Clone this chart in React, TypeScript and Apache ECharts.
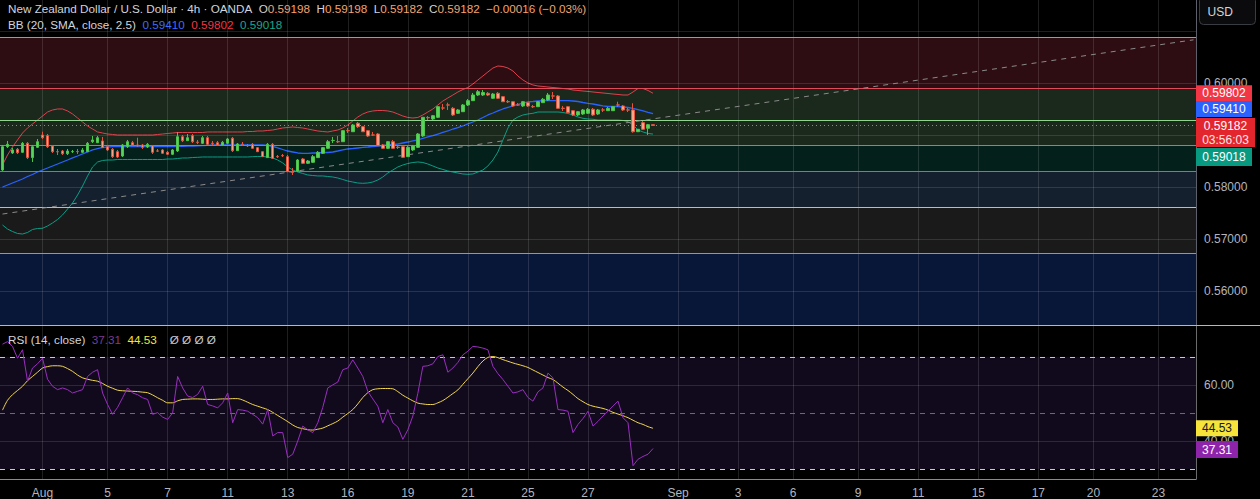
import React, { useEffect, useRef } from "react";
import * as echarts from "echarts";

const SLOT_COUNT = 239;
const tickIndex = [8, 21, 33, 45, 57, 69, 81, 93, 105, 117, 135, 147, 158, 171, 183, 195, 207, 218, 231];
const tickText = ["Aug", "5", "7", "11", "13", "16", "19", "21", "25", "27", "Sep", "3", "6", "9", "11", "15", "17", "20", "23"];

const opens = [
  0.58327, 0.58775, 0.58654, 0.58725, 0.58667, 0.5884, 0.58565, 0.58763, 0.59, 0.58987,
  0.58788, 0.5868, 0.58692, 0.5864, 0.58679, 0.58681, 0.58667, 0.58679, 0.58871, 0.58852,
  0.58885, 0.58775, 0.58725, 0.58679, 0.58596, 0.58775, 0.58852, 0.58808, 0.58808, 0.58769,
  0.58794, 0.58694, 0.58712, 0.58667, 0.58629, 0.58692, 0.58967, 0.5889, 0.58987, 0.58862,
  0.5884, 0.58948, 0.58842, 0.58852, 0.58808, 0.5884, 0.58937, 0.58698, 0.58823, 0.58796,
  0.58821, 0.58756, 0.58679, 0.58565, 0.58821, 0.58585, 0.58604, 0.58583, 0.58285, 0.58308,
  0.58538, 0.58456, 0.58475, 0.58565, 0.58648, 0.58744, 0.58892, 0.58873, 0.58871, 0.59085,
  0.59063, 0.59225, 0.5916, 0.59083, 0.59002, 0.59019, 0.58808, 0.58744, 0.58871, 0.58765,
  0.58775, 0.58583, 0.58712, 0.58763, 0.58981, 0.59335, 0.59308, 0.5934, 0.59521, 0.59579,
  0.59513, 0.59417, 0.59448, 0.59577, 0.5966, 0.59769, 0.59769, 0.59802, 0.59706, 0.59802,
  0.59737, 0.59642, 0.5964, 0.59579, 0.59558, 0.59621, 0.59546, 0.59544, 0.59621, 0.59673,
  0.59752, 0.5975, 0.59515, 0.59544, 0.59467, 0.59385, 0.59404, 0.59417, 0.59494, 0.59404,
  0.59483, 0.59467, 0.59467, 0.59579, 0.59558, 0.59483, 0.59481, 0.59063, 0.59237, 0.59129,
  0.59198,
];
const closes = [
  0.58775, 0.58821, 0.58712, 0.5866, 0.5884, 0.58565, 0.58775, 0.58871, 0.58948, 0.58775,
  0.58679, 0.58677, 0.5864, 0.58692, 0.58681, 0.58679, 0.58712, 0.5884, 0.58904, 0.58948,
  0.58756, 0.58712, 0.58583, 0.58577, 0.58808, 0.58871, 0.58808, 0.58788, 0.58763, 0.58821,
  0.58667, 0.5869, 0.58648, 0.58629, 0.58712, 0.58967, 0.5889, 0.58948, 0.58871, 0.58858,
  0.58948, 0.58821, 0.58838, 0.58808, 0.5886, 0.58923, 0.58698, 0.58827, 0.58819, 0.58792,
  0.58744, 0.58679, 0.58583, 0.58821, 0.58552, 0.58581, 0.586, 0.58294, 0.58281, 0.58519,
  0.58456, 0.585, 0.58583, 0.58667, 0.58756, 0.58871, 0.58896, 0.58869, 0.59083, 0.59081,
  0.59192, 0.5916, 0.59063, 0.58981, 0.58998, 0.58794, 0.58744, 0.58871, 0.58744, 0.58761,
  0.58571, 0.58763, 0.58788, 0.59019, 0.5934, 0.59331, 0.59371, 0.59544, 0.59517, 0.59575,
  0.59385, 0.59481, 0.59577, 0.5966, 0.59769, 0.59833, 0.59817, 0.59769, 0.59788, 0.59706,
  0.5964, 0.59638, 0.59558, 0.59575, 0.5964, 0.59558, 0.59542, 0.5964, 0.59687, 0.59769,
  0.59748, 0.59513, 0.59511, 0.59429, 0.59385, 0.59448, 0.59481, 0.59494, 0.59385, 0.59481,
  0.59479, 0.59513, 0.59544, 0.59575, 0.59481, 0.59479, 0.59063, 0.5911, 0.5911, 0.59198,
  0.59182,
];
const lows = [
  0.58308, 0.5875, 0.58635, 0.58635, 0.58654, 0.58538, 0.58481, 0.5875, 0.58923, 0.5875,
  0.58654, 0.58615, 0.58615, 0.58615, 0.58654, 0.58635, 0.58654, 0.58673, 0.58846, 0.58846,
  0.5875, 0.58692, 0.58558, 0.58558, 0.58577, 0.5875, 0.58788, 0.58769, 0.58731, 0.5875,
  0.58635, 0.58673, 0.58635, 0.58615, 0.58615, 0.58673, 0.58865, 0.58885, 0.58846, 0.58827,
  0.58827, 0.58808, 0.58808, 0.58788, 0.58788, 0.58827, 0.58673, 0.58692, 0.58788, 0.58769,
  0.58731, 0.58673, 0.58577, 0.58558, 0.58538, 0.58558, 0.58577, 0.58288, 0.58231, 0.58288,
  0.58442, 0.58442, 0.58462, 0.58558, 0.58635, 0.58731, 0.58846, 0.58846, 0.58865, 0.59038,
  0.59058, 0.59135, 0.59058, 0.58962, 0.58981, 0.58788, 0.58731, 0.58731, 0.58731, 0.58731,
  0.58558, 0.58577, 0.58692, 0.5875, 0.58962, 0.59288, 0.59288, 0.59327, 0.59481, 0.59481,
  0.59365, 0.59404, 0.59442, 0.59558, 0.59654, 0.5975, 0.5975, 0.5975, 0.59692, 0.59692,
  0.59635, 0.59615, 0.59538, 0.59558, 0.59538, 0.59538, 0.59519, 0.59538, 0.59615, 0.59654,
  0.59692, 0.595, 0.59462, 0.59423, 0.59365, 0.59365, 0.59385, 0.59404, 0.59365, 0.59385,
  0.59442, 0.59462, 0.59462, 0.59538, 0.59462, 0.59442, 0.59044, 0.59058, 0.59096, 0.59,
  0.59182,
];
const highs = [
  0.58808, 0.58885, 0.5875, 0.5875, 0.58865, 0.58865, 0.58808, 0.58923, 0.59063, 0.59019,
  0.58808, 0.58731, 0.58712, 0.58731, 0.58712, 0.58731, 0.5875, 0.58865, 0.58981, 0.58981,
  0.58962, 0.58808, 0.5875, 0.58712, 0.58827, 0.58904, 0.58885, 0.58948, 0.58827, 0.58846,
  0.58808, 0.58731, 0.58731, 0.58692, 0.58731, 0.59058, 0.59, 0.59019, 0.59019, 0.58904,
  0.58981, 0.58981, 0.58885, 0.58885, 0.58885, 0.58942, 0.58962, 0.58846, 0.58865, 0.58827,
  0.58846, 0.58769, 0.58692, 0.58846, 0.58846, 0.58615, 0.58635, 0.58615, 0.58365, 0.58538,
  0.58558, 0.58519, 0.58615, 0.58692, 0.58769, 0.58904, 0.58962, 0.58981, 0.59096, 0.59135,
  0.59212, 0.5925, 0.59173, 0.59096, 0.59058, 0.59038, 0.58827, 0.58885, 0.58904, 0.58788,
  0.58788, 0.58788, 0.58808, 0.59038, 0.59346, 0.59365, 0.59385, 0.59558, 0.59596, 0.59621,
  0.59538, 0.595, 0.59596, 0.59692, 0.59808, 0.59865, 0.59865, 0.59827, 0.59808, 0.59827,
  0.5975, 0.59673, 0.59654, 0.59615, 0.59654, 0.59635, 0.59577, 0.59654, 0.59712, 0.59808,
  0.59827, 0.59769, 0.59558, 0.59558, 0.59481, 0.59462, 0.595, 0.59519, 0.59519, 0.595,
  0.59519, 0.59538, 0.59558, 0.5964, 0.59577, 0.59519, 0.5961, 0.59115, 0.59269, 0.59212,
  0.59198,
];

const bbUpper = [
  0.58423, 0.58615, 0.58769, 0.58904, 0.59038, 0.59135, 0.59212, 0.59288, 0.59365, 0.59442,
  0.59481, 0.595, 0.595, 0.59462, 0.59404, 0.59327, 0.5925, 0.59173, 0.59115, 0.59058,
  0.59038, 0.59019, 0.5901, 0.59, 0.59, 0.59, 0.59, 0.59, 0.59, 0.59,
  0.59, 0.5901, 0.59019, 0.59029, 0.59038, 0.59048, 0.59048, 0.59048, 0.59048, 0.59048,
  0.59048, 0.59058, 0.59058, 0.59058, 0.59058, 0.59058, 0.59058, 0.59058, 0.59058, 0.59067,
  0.59067, 0.59077, 0.59077, 0.59087, 0.59096, 0.59115, 0.59135, 0.59144, 0.59154, 0.59144,
  0.59135, 0.59115, 0.59096, 0.59077, 0.59067, 0.59058, 0.59077, 0.59096, 0.59135, 0.59192,
  0.59269, 0.59346, 0.59404, 0.59442, 0.59462, 0.59471, 0.59471, 0.59462, 0.59442, 0.59404,
  0.59365, 0.59337, 0.59327, 0.59337, 0.59385, 0.59442, 0.595, 0.59577, 0.59654, 0.59712,
  0.59769, 0.59827, 0.59875, 0.59913, 0.59981, 0.60058, 0.60135, 0.60212, 0.60288, 0.60327,
  0.60317, 0.60288, 0.60231, 0.60135, 0.60058, 0.6, 0.59962, 0.59942, 0.59933, 0.59923,
  0.59913, 0.59904, 0.59894, 0.59885, 0.59865, 0.59856, 0.59846, 0.59837, 0.59827, 0.59817,
  0.59808, 0.59798, 0.59788, 0.59779, 0.59769, 0.59769, 0.59827, 0.59894, 0.59894, 0.59856,
  0.59802,
];
const bbBasis = [
  0.58, 0.58038, 0.58077, 0.58115, 0.58154, 0.58202, 0.5824, 0.58288, 0.58327, 0.58365,
  0.58404, 0.58442, 0.58481, 0.58519, 0.58558, 0.58596, 0.58635, 0.58673, 0.58712, 0.5874,
  0.5876, 0.58769, 0.58775, 0.58775, 0.58775, 0.58775, 0.58775, 0.58775, 0.58775, 0.58775,
  0.58775, 0.58775, 0.58775, 0.58775, 0.58779, 0.58781, 0.58783, 0.58785, 0.58788, 0.5879,
  0.58794, 0.588, 0.58808, 0.58808, 0.58808, 0.58808, 0.58808, 0.58808, 0.58808, 0.58808,
  0.58808, 0.58808, 0.58808, 0.58798, 0.58779, 0.5875, 0.58721, 0.58692, 0.58673, 0.58654,
  0.58648, 0.58648, 0.58654, 0.58654, 0.58663, 0.58663, 0.58673, 0.58692, 0.58712, 0.58731,
  0.5874, 0.5875, 0.5876, 0.58769, 0.58779, 0.58788, 0.58798, 0.58808, 0.58817, 0.58827,
  0.58846, 0.58865, 0.58885, 0.58904, 0.58933, 0.58962, 0.5899, 0.59019, 0.59048, 0.59077,
  0.59115, 0.59144, 0.59173, 0.59212, 0.5925, 0.59288, 0.59337, 0.59385, 0.59423, 0.59462,
  0.595, 0.59529, 0.59558, 0.59587, 0.59615, 0.59635, 0.59644, 0.59654, 0.5966, 0.5966,
  0.5966, 0.5966, 0.5966, 0.5966, 0.59654, 0.59644, 0.59625, 0.5961, 0.59596, 0.59577,
  0.59558, 0.59548, 0.59548, 0.59548, 0.59538, 0.59529, 0.59513, 0.5949, 0.59462, 0.59433,
  0.5941,
];
const bbLower = [
  0.57269, 0.57192, 0.57144, 0.57106, 0.57096, 0.57125, 0.57183, 0.57202, 0.57206, 0.5725,
  0.57308, 0.57375, 0.57462, 0.57577, 0.57692, 0.57846, 0.58019, 0.58212, 0.58385, 0.58481,
  0.5851, 0.58519, 0.58519, 0.58529, 0.58529, 0.58529, 0.58529, 0.58529, 0.58529, 0.58529,
  0.58529, 0.58529, 0.58529, 0.58538, 0.58538, 0.58548, 0.58558, 0.58558, 0.58567, 0.58571,
  0.58577, 0.58577, 0.58577, 0.58577, 0.58577, 0.58577, 0.58577, 0.58577, 0.58577, 0.58577,
  0.58583, 0.58587, 0.58587, 0.58577, 0.58558, 0.58519, 0.58462, 0.58385, 0.58327, 0.58288,
  0.5826, 0.58231, 0.58221, 0.58212, 0.58212, 0.58202, 0.58192, 0.58173, 0.58144, 0.58115,
  0.58096, 0.58077, 0.58071, 0.58077, 0.58096, 0.58135, 0.58192, 0.58269, 0.58327, 0.58385,
  0.58423, 0.58452, 0.58471, 0.58481, 0.58471, 0.58442, 0.58404, 0.58365, 0.58337, 0.58308,
  0.58288, 0.58269, 0.5825, 0.58244, 0.5825, 0.58288, 0.58327, 0.58404, 0.58519, 0.58673,
  0.58904, 0.59135, 0.59288, 0.59346, 0.59385, 0.59404, 0.59417, 0.59442, 0.59442, 0.59442,
  0.59442, 0.59442, 0.59433, 0.59413, 0.59385, 0.59346, 0.59321, 0.59308, 0.59302, 0.59288,
  0.59288, 0.59288, 0.59288, 0.59288, 0.59279, 0.59256, 0.59192, 0.59096, 0.59058, 0.59029,
  0.59018,
];

const rsiValues = [
  74.5, 75.4, 73.7, 69.5, 72.5, 61.3, 66.0, 67.5, 69.5, 62.0,
  59.5, 58.3, 58.9, 58.3, 57.1, 57.7, 58.3, 63.0, 64.5, 65.4,
  57.1, 53.0, 49.5, 52.0, 55.4, 58.9, 57.1, 56.5, 55.4, 54.8,
  49.5, 50.1, 48.5, 47.7, 50.0, 63.0, 58.9, 56.0, 55.5, 56.6,
  59.5, 53.0, 52.5, 51.8, 53.6, 57.1, 46.5, 51.2, 51.0, 50.6,
  49.5, 48.3, 46.0, 51.2, 41.8, 43.0, 43.0, 34.1, 35.3, 40.0,
  45.3, 44.0, 43.0, 46.5, 52.0, 58.9, 60.0, 61.0, 65.4, 66.0,
  68.9, 66.0, 63.0, 57.7, 55.0, 52.4, 46.5, 51.2, 46.5, 45.0,
  40.6, 44.0, 48.9, 57.0, 66.6, 66.8, 67.5, 70.1, 70.7, 64.5,
  66.0, 68.0, 70.7, 72.0, 73.7, 73.5, 73.1, 72.5, 66.6, 64.0,
  61.9, 59.5, 57.1, 57.5, 58.3, 55.5, 54.2, 57.5, 58.9, 64.2,
  62.5, 51.2, 51.0, 50.6, 43.0, 45.9, 48.0, 50.6, 45.3, 47.0,
  48.9, 50.6, 52.5, 54.2, 48.3, 46.5, 31.2, 33.5, 34.5, 35.3,
  37.31,
];
const rsiMa = [
  51.0, 54.5, 56.5, 58.0, 59.5, 61.5, 63.0, 64.5, 66.0, 66.5,
  66.8, 66.8, 66.6, 65.8, 64.8, 63.5, 62.5, 62.0, 61.6, 61.3,
  60.5, 59.5, 58.8, 58.1, 57.9, 57.8, 57.7, 57.6, 57.4, 57.2,
  56.4, 55.4, 54.5, 53.6, 53.6, 54.3, 54.8, 54.9, 55.0, 55.0,
  54.9, 54.8, 54.8, 54.9, 55.0, 55.0, 55.1, 55.1, 54.6, 53.8,
  53.0, 52.4, 51.8, 51.2, 50.2, 49.1, 48.0, 46.9, 45.7, 44.8,
  44.4, 44.0, 43.9, 44.2, 44.6, 45.4, 46.2, 47.1, 48.5, 49.8,
  51.2, 53.2, 55.5, 57.2, 58.3, 58.6, 58.7, 58.7, 58.6, 57.6,
  56.3, 55.3, 54.3, 53.5, 53.2, 53.0, 53.0, 53.6, 54.4, 55.6,
  56.9, 58.2, 60.2, 62.2, 64.2, 66.5, 68.5, 69.8, 70.1, 69.7,
  69.0, 68.4, 67.8, 67.3, 66.8, 66.2, 65.3, 64.4, 63.5, 62.6,
  61.9, 60.6, 59.2, 58.0, 56.6, 55.1, 54.0, 53.0, 52.4, 52.0,
  51.6, 51.0, 50.2, 49.6, 49.0, 48.3, 47.4, 46.5, 45.9, 45.1,
  44.53,
];

const priceMin = 0.55346;
const priceMax = 0.61596;
const rsiMin = 26.46;
const rsiMax = 80.97;

const zoneEdges = [0.55346, 0.56725, 0.5761, 0.58308, 0.58802, 0.59898, 0.60879];
const zoneColors = ["#081637", "#1a1a1a", "#15202e", "#04201b", "#1b281c", "#2d0d11"];
const levelValues = [0.60879, 0.59898, 0.59288, 0.58802, 0.58308, 0.5761, 0.56725];
const levelColors = ["#9a9aa4", "#e04b5a", "#8fd48f", "#4caf50", "#26a69a", "#90c8f4", "#8d97aa"];
const priceGridLevels = [0.56, 0.57, 0.58, 0.59, 0.6, 0.61];
const hiddenPriceLabels = [0.59, 0.61];
const trendStart = [0, 0.5748];
const trendEnd = [238, 0.6083];
const rsiGridLevels = [40, 60];
const rsiBandLevels = [70, 50, 30];
const rsiBandColors = ["#c9c9d0", "#6a6a74", "#c9c9d0"];
const countdown = "03:56:03";

const symbolTitle = "New Zealand Dollar / U.S. Dollar · 4h · OANDA";
const bbTitle = "BB (20, SMA, close, 2.5)";
const rsiTitle = "RSI (14, close)";
const emptyPlots = ["Ø", "Ø", "Ø", "Ø"];

const FONT = "'Liberation Sans', Arial, sans-serif";
const TEXT = "#d1d4dc";
const AXIS_TEXT = "#b2b5be";
const HEAD_SIZE = 11.7;

function signed(v: number, digits: number) {
  const s = Math.abs(v).toFixed(digits);
  return v < 0 ? "\u2212" + s : "+" + s;
}

function buildOption() {
  const categories = Array.from({ length: SLOT_COUNT }, (_, i) => String(i));
  const tickMap = new Map<number, string>();
  tickIndex.forEach((idx, k) => tickMap.set(idx, tickText[k]));
  const n = opens.length;
  const lastSlot = SLOT_COUNT - 1;
  const candleData = opens.map((o, i) => [o, closes[i], lows[i], highs[i]]);

  const lastO = opens[n - 1];
  const lastH = highs[n - 1];
  const lastL = lows[n - 1];
  const lastC = closes[n - 1];
  const prevC = closes[n - 2];
  const chg = lastC - prevC;
  const pct = (chg / prevC) * 100;

  const noLabel = { show: false };
  const markLineBase = {
    silent: true,
    symbol: ["none", "none"],
    label: noLabel,
    animation: false,
    precision: 8,
  };

  const zoneAreas = zoneColors.map((c, k) => [
    { yAxis: zoneEdges[k], itemStyle: { color: c } },
    { yAxis: zoneEdges[k + 1] },
  ]);

  const gridStyle = { color: "rgba(255,255,255,0.12)", width: 1, type: "solid" };

  const tagDx = (w: number) => 1196 + w / 2 - 1193.5;
  const priceTag = (value: number, text: string, bg: string, dy: number, w: number, h: number, rich?: any) => ({
    coord: [lastSlot, value],
    symbol: "rect",
    symbolSize: [w, h],
    symbolOffset: [tagDx(w), dy],
    itemStyle: { color: bg },
    label: {
      show: true,
      position: "inside",
      formatter: text,
      color: "#ffffff",
      fontSize: 12,
      fontFamily: FONT,
      lineHeight: 14,
      rich,
    },
  });

  const series: any[] = [
    {
      name: "zones",
      type: "line",
      xAxisIndex: 0,
      yAxisIndex: 0,
      data: [],
      z: 1,
      silent: true,
      markArea: { silent: true, animation: false, data: zoneAreas },
    },
    {
      name: "priceGrid",
      type: "line",
      xAxisIndex: 0,
      yAxisIndex: 0,
      data: [],
      z: 2,
      silent: true,
      markLine: {
        ...markLineBase,
        lineStyle: gridStyle,
        data: [
          ...tickIndex.map((i) => ({ xAxis: i, lineStyle: gridStyle })),
          ...priceGridLevels.map((v) => ({ yAxis: v, lineStyle: gridStyle })),
        ],
      },
    },
    {
      name: "levels",
      type: "line",
      xAxisIndex: 0,
      yAxisIndex: 0,
      data: [],
      z: 3,
      silent: true,
      markLine: {
        ...markLineBase,
        data: [
          ...levelValues.map((v, k) => ({ yAxis: v, lineStyle: { color: levelColors[k], width: 1, type: "solid" } })),
          { yAxis: lastC, lineStyle: { color: "#f0673a", width: 1, type: [1, 3] } },
          [
            { coord: trendStart, lineStyle: { color: "#8a8a8a", width: 1, type: [5, 5] } },
            { coord: trendEnd },
          ],
        ],
      },
    },
    {
      name: "BB upper",
      type: "line",
      xAxisIndex: 0,
      yAxisIndex: 0,
      data: bbUpper,
      z: 4,
      showSymbol: false,
      silent: true,
      lineStyle: { color: "#e0404e", width: 1 },
    },
    {
      name: "BB basis",
      type: "line",
      xAxisIndex: 0,
      yAxisIndex: 0,
      data: bbBasis,
      z: 4,
      showSymbol: false,
      silent: true,
      lineStyle: { color: "#2962ff", width: 1.3 },
    },
    {
      name: "BB lower",
      type: "line",
      xAxisIndex: 0,
      yAxisIndex: 0,
      data: bbLower,
      z: 4,
      showSymbol: false,
      silent: true,
      lineStyle: { color: "#0a9d84", width: 1 },
    },
    {
      name: "NZDUSD",
      type: "candlestick",
      xAxisIndex: 0,
      yAxisIndex: 0,
      data: candleData,
      z: 5,
      barWidth: 3,
      silent: true,
      itemStyle: {
        color: "#5bd45b",
        color0: "#f6a58a",
        borderColor: "#4cc44c",
        borderColor0: "#e8553e",
        borderWidth: 1,
      },
    },
    {
      name: "priceTags",
      type: "line",
      xAxisIndex: 0,
      yAxisIndex: 0,
      data: [],
      z: 10,
      silent: true,
      markPoint: {
        silent: true,
        animation: false,
        data: [
          priceTag(bbUpper[n - 1], bbUpper[n - 1].toFixed(5), "#f23645", 0, 56, 16),
          priceTag(bbBasis[n - 1], bbBasis[n - 1].toFixed(5), "#2962ff", -4.7, 56, 16),
          priceTag(lastC, `{a|${lastC.toFixed(5)}}\n{b|${countdown}}`, "#e3262e", 7, 59, 29, {
            a: { color: "#ffffff", fontSize: 12, fontFamily: FONT, lineHeight: 14 },
            b: { color: "#ffe6e6", fontSize: 12, fontFamily: FONT, lineHeight: 14 },
          }),
          priceTag(bbLower[n - 1], bbLower[n - 1].toFixed(5), "#089981", 23, 56, 18),
        ],
      },
    },
    // RSI panel
    {
      name: "rsiBand",
      type: "line",
      xAxisIndex: 1,
      yAxisIndex: 1,
      data: [],
      z: 1,
      silent: true,
      markArea: {
        silent: true,
        animation: false,
        data: [[{ yAxis: rsiBandLevels[2], itemStyle: { color: "#110a1d" } }, { yAxis: rsiBandLevels[0] }]],
      },
    },
    {
      name: "rsiGrid",
      type: "line",
      xAxisIndex: 1,
      yAxisIndex: 1,
      data: [],
      z: 2,
      silent: true,
      markLine: {
        ...markLineBase,
        lineStyle: gridStyle,
        data: [
          ...tickIndex.map((i) => ({ xAxis: i, lineStyle: gridStyle })),
          ...rsiGridLevels.map((v) => ({ yAxis: v, lineStyle: gridStyle })),
        ],
      },
    },
    {
      name: "rsiLevels",
      type: "line",
      xAxisIndex: 1,
      yAxisIndex: 1,
      data: [],
      z: 3,
      silent: true,
      markLine: {
        ...markLineBase,
        data: rsiBandLevels.map((v, k) => ({
          yAxis: v,
          lineStyle: { color: rsiBandColors[k], width: 1, type: [5, 5] },
        })),
      },
    },
    {
      name: "RSI MA",
      type: "line",
      xAxisIndex: 1,
      yAxisIndex: 1,
      data: rsiMa,
      z: 4,
      showSymbol: false,
      silent: true,
      smooth: 0.3,
      lineStyle: { color: "#f2d64b", width: 1 },
    },
    {
      name: "RSI",
      type: "line",
      xAxisIndex: 1,
      yAxisIndex: 1,
      data: rsiValues,
      z: 5,
      showSymbol: false,
      silent: true,
      lineStyle: { color: "#9a2fbf", width: 1 },
    },
    {
      name: "rsiTags",
      type: "line",
      xAxisIndex: 1,
      yAxisIndex: 1,
      data: [],
      z: 10,
      silent: true,
      markPoint: {
        silent: true,
        animation: false,
        data: [
          {
            coord: [lastSlot, rsiMa[n - 1]],
            symbol: "rect",
            symbolSize: [42, 16],
            symbolOffset: [tagDx(42), 0],
            itemStyle: { color: "#f7e43a" },
            label: { show: true, position: "inside", formatter: rsiMa[n - 1].toFixed(2), color: "#131722", fontSize: 12, fontFamily: FONT },
          },
          {
            coord: [lastSlot, rsiValues[n - 1]],
            symbol: "rect",
            symbolSize: [42, 17],
            symbolOffset: [tagDx(42), 1],
            itemStyle: { color: "#8e24aa" },
            label: { show: true, position: "inside", formatter: rsiValues[n - 1].toFixed(2), color: "#ffffff", fontSize: 12, fontFamily: FONT },
          },
        ],
      },
    },
  ];

  const headerRich = {
    t: { fill: TEXT, fontSize: HEAD_SIZE, fontFamily: FONT },
    v: { fill: "#f5a46e", fontSize: HEAD_SIZE, fontFamily: FONT },
    blue: { fill: "#3b6cff", fontSize: HEAD_SIZE, fontFamily: FONT },
    red: { fill: "#f23645", fontSize: HEAD_SIZE, fontFamily: FONT },
    teal: { fill: "#17a88c", fontSize: HEAD_SIZE, fontFamily: FONT },
    pur: { fill: "#7b3c92", fontSize: HEAD_SIZE, fontFamily: FONT },
    yel: { fill: "#f7e43a", fontSize: HEAD_SIZE, fontFamily: FONT },
    g: { fill: "#c7c9d0", fontSize: HEAD_SIZE, fontFamily: FONT },
  };

  const headerLine1 =
    `{t|${symbolTitle}}  {t|O}{v|${lastO.toFixed(5)}}  {t|H}{v|${lastH.toFixed(5)}}  ` +
    `{t|L}{v|${lastL.toFixed(5)}}  {t|C}{v|${lastC.toFixed(5)}}  {v|${signed(chg, 5)} (${signed(pct, 2)}%)}`;
  const headerLine2 =
    `{t|${bbTitle}}  {blue|${bbBasis[n - 1].toFixed(5)}}  {red|${bbUpper[n - 1].toFixed(5)}}  {teal|${bbLower[n - 1].toFixed(5)}}`;
  const rsiLine =
    `{t|${rsiTitle}}  {pur|${rsiValues[n - 1].toFixed(2)}}  {yel|${rsiMa[n - 1].toFixed(2)}}    ` +
    emptyPlots.map((p) => `{g|${p}}`).join(" ");

  return {
    animation: false,
    backgroundColor: "#000000",
    textStyle: { fontFamily: FONT },
    grid: [
      { left: 0, right: 64, top: 0, height: 325 },
      { left: 0, right: 64, top: 326, height: 154 },
    ],
    xAxis: [
      {
        type: "category",
        gridIndex: 0,
        data: categories,
        boundaryGap: true,
        axisLine: { show: false },
        axisTick: { show: false },
        axisLabel: { show: false },
        splitLine: { show: false },
      },
      {
        type: "category",
        gridIndex: 1,
        data: categories,
        boundaryGap: true,
        axisLine: { show: true, lineStyle: { color: "#8a8a8a", width: 1 } },
        axisTick: { show: false },
        axisLabel: {
          color: AXIS_TEXT,
          fontSize: 12,
          fontFamily: FONT,
          margin: 8,
          interval: (index: number) => tickMap.has(index),
          formatter: (value: string) => tickMap.get(Number(value)) || "",
        },
        splitLine: { show: false },
      },
    ],
    yAxis: [
      {
        type: "value",
        gridIndex: 0,
        position: "right",
        min: priceMin,
        max: priceMax,
        splitNumber: 6,
        axisLine: { show: true, lineStyle: { color: "#5d606b" } },
        axisTick: { show: false },
        splitLine: { show: false },
        axisLabel: {
          color: AXIS_TEXT,
          fontSize: 12,
          fontFamily: FONT,
          margin: 8,
          showMinLabel: false,
          showMaxLabel: false,
          formatter: (v: number) =>
            hiddenPriceLabels.some((h) => Math.abs(h - v) < 1e-7) ? "" : v.toFixed(5),
        },
      },
      {
        type: "value",
        gridIndex: 1,
        position: "right",
        min: rsiMin,
        max: rsiMax,
        splitNumber: 3,
        axisLine: { show: true, lineStyle: { color: "#6b6b6b" } },
        axisTick: { show: false },
        splitLine: { show: false },
        axisLabel: {
          color: AXIS_TEXT,
          fontSize: 12,
          fontFamily: FONT,
          margin: 8,
          showMinLabel: false,
          showMaxLabel: false,
          formatter: (v: number) =>
            rsiGridLevels.some((g) => Math.abs(g - v) < 1e-6) ? v.toFixed(2) : "",
        },
      },
    ],
    graphic: [
      {
        type: "line",
        silent: true,
        z: 50,
        shape: { x1: 0, y1: 325.5, x2: 1260, y2: 325.5 },
        style: { stroke: "#b8b8b8", lineWidth: 1 },
      },
      {
        type: "text",
        silent: true,
        z: 60,
        left: 8,
        top: 2,
        style: { text: headerLine1, rich: headerRich, fontSize: HEAD_SIZE, fontFamily: FONT, fill: TEXT },
      },
      {
        type: "text",
        silent: true,
        z: 60,
        left: 8,
        top: 18,
        style: { text: headerLine2, rich: headerRich, fontSize: HEAD_SIZE, fontFamily: FONT, fill: TEXT },
      },
      {
        type: "text",
        silent: true,
        z: 60,
        left: 8,
        top: 333,
        style: { text: rsiLine, rich: headerRich, fontSize: HEAD_SIZE, fontFamily: FONT, fill: TEXT },
      },
      {
        type: "group",
        silent: true,
        z: 60,
        left: 1199,
        top: -4,
        children: [
          {
            type: "rect",
            shape: { x: 0, y: 0, width: 56, height: 28, r: 4 },
            style: { fill: "#0b0b0d", stroke: "#3a3c44", lineWidth: 1 },
          },
          {
            type: "text",
            style: { x: 8, y: 9, text: "USD", fill: TEXT, fontSize: 12, fontFamily: FONT },
          },
        ],
      },
    ],
    series,
  };
}

export default function App() {
  const ref = useRef<HTMLDivElement>(null);
  useEffect(() => {
    if (!ref.current) return;
    const chart = echarts.init(ref.current, null, { renderer: "svg" });
    chart.setOption(buildOption() as any);
    return () => {
      chart.dispose();
    };
  }, []);
  return (
    <div
      ref={ref}
      style={{ position: "fixed", left: 0, top: 0, width: 1260, height: 499, background: "#000" }}
    />
  );
}
